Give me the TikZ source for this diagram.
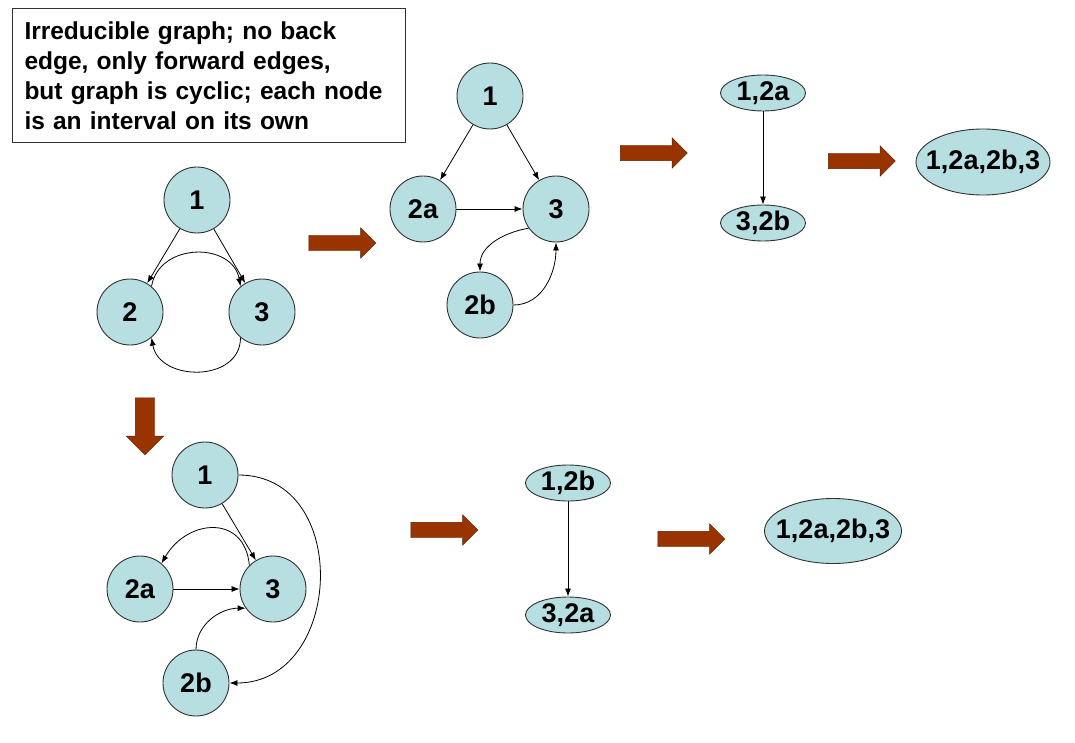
\documentclass[tikz,border=0pt]{standalone}
\usepackage{fontspec}
\setmainfont{Liberation Sans}
\usetikzlibrary{shapes.geometric, shapes.arrows, arrows.meta, positioning, calc}
\definecolor{nodeblue}{RGB}{183,223,226}
\definecolor{rimgray}{RGB}{50,50,50}
\definecolor{rustred}{RGB}{153,51,0}

\begin{document}
\begin{tikzpicture}[x=1pt, y=1pt]
                \tikzstyle{vertex} = [circle, draw=rimgray, line width=0.9pt, fill=nodeblue, minimum size=66pt, inner sep=0pt, font=\fontsize{27}{30}\selectfont\bfseries]
                \tikzstyle{interval} = [ellipse, draw=rimgray, line width=0.9pt, fill=nodeblue, minimum width=85pt, minimum height=36pt, inner sep=0pt, font=\fontsize{27}{30}\selectfont\bfseries]
                \tikzstyle{merged} = [interval, inner xsep=-11pt, minimum width=134pt, minimum height=66pt]
                \tikzstyle{edge} = [draw, -{Latex[length=8pt,width=6pt]}, line width=0.8pt]
                \tikzstyle{fatarrow} = [single arrow, draw=rustred!60!black, fill=rustred, inner sep=7.5pt, single arrow head extend=7.5pt, minimum height=67pt]
                \tikzstyle{note} = [rectangle, draw=rimgray, line width=0.9pt, minimum width=393pt, minimum height=134pt, text width=369pt, align=left, font=\fontsize{24.5}{30}\selectfont\bfseries]

                \useasboundingbox (0,0) rectangle (1075,-743);

                \node[note] (caption) at (209,-75.5) {Irreducible graph; no back\\edge, only forward edges,\\but graph is cyclic; each node\\is an interval on its own};

                % original graph
                \node[vertex] (a1) at (197,-200) {1};
                \node[vertex] (a2) at (130,-312) {2};
                \node[vertex] (a3) at (262,-312) {3};
                \draw[edge] (a1) -- (a2);
                \draw[edge] (a1) -- (a3);
                \draw[edge] (a2.50) to[out=80, in=100, looseness=1.3] (a3.130);
                \draw[edge] (a3.230) to[out=-90, in=-80, looseness=1.3] (a2.310);

                \node[fatarrow] (flow1) at (338.5,-243) {};
                \node[fatarrow, rotate=-90, minimum height=57pt, inner sep=9.5pt, single arrow head extend=9pt] (flowdown) at (145,-421.5) {};

                % node 2 split into 2a and 2b
                \node[vertex] (b1) at (490,-96) {1};
                \node[vertex] (b2a) at (423,-209) {2a};
                \node[vertex] (b3) at (556,-209) {3};
                \node[vertex] (b2b) at (480,-305) {2b};
                \draw[edge] (b1) -- (b2a);
                \draw[edge] (b1) -- (b3);
                \draw[edge] (b2a) -- (b3);
                \draw[edge] (b3.215) to[out=190, in=90] (b2b.90);
                \draw[edge] (b2b.0) to[out=0, in=-90] (b3.-90);

                \node[fatarrow] (flow2) at (650,-153) {};

                \node[interval] (c12a) at (763,-93) {1,2a};
                \node[interval] (c32b) at (763,-223) {3,2b};
                \draw[edge] (c12a) -- (c32b);

                \node[fatarrow] (flow3) at (858,-161) {};
                \node[merged] (call) at (983,-162) {1,2a,2b,3};

                % other split
                \node[vertex] (d1) at (205,-475) {1};
                \node[vertex] (d2a) at (140,-589) {2a};
                \node[vertex] (d3) at (273,-589) {3};
                \node[vertex] (d2b) at (196,-683) {2b};
                \draw[edge] (d1) -- (d3);
                \draw[edge] (d2a) -- (d3);
                \draw[edge] (d3.135) to[out=95, in=60, looseness=1.5] (d2a.50);
                \draw[edge] (d2b.90) to[out=90, in=180] (d3.215);
                \draw[edge] (d1.0) to[out=0, in=0, looseness=1.4] (d2b.0);

                \node[fatarrow] (flow4) at (440.5,-530) {};

                \node[interval] (e12b) at (568,-483) {1,2b};
                \node[interval] (e32a) at (568,-615) {3,2a};
                \draw[edge] (e12b) -- (e32a);

                \node[fatarrow] (flow5) at (687.5,-539) {};
                \node[merged, minimum width=137pt, minimum height=65pt] (eall) at (833,-531) {1,2a,2b,3};
            \end{tikzpicture}
\end{document}
